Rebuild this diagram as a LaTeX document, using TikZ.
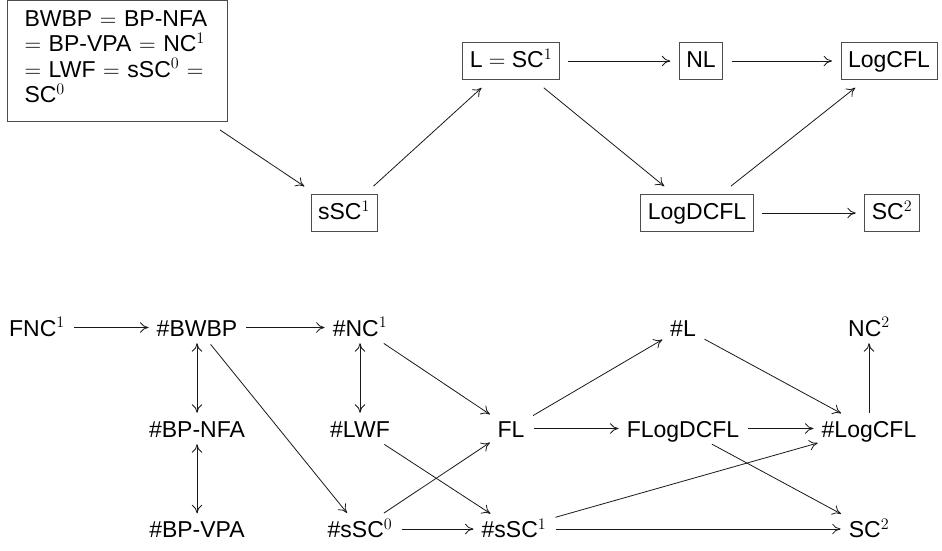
\RequirePackage{fix-cm}
\documentclass[tikz,border=0pt]{standalone}
\usepackage[no-math]{fontspec}
\setmainfont{Liberation Sans}
\usetikzlibrary{arrows.meta}
\begin{document}
\begin{tikzpicture}[x=1pt,y=-1pt,
  every node/.style={font=\fontsize{23}{25.5}\selectfont},
  lab/.style={inner xsep=5pt, inner ysep=4pt, text height=18pt, text depth=1pt},
  cbox/.style={draw=black!70, line width=0.8pt, inner xsep=7pt, inner ysep=7pt,
    text height=18pt, text depth=5pt, outer sep=7pt},
  tip/.tip={To[length=8.5pt,width=10.5pt]},
  arr/.style={-tip, line width=0.8pt, draw=black!90, shorten >=3pt, shorten <=4pt},
  barr/.style={-tip, line width=0.8pt, draw=black!90, shorten >=2pt, shorten <=2pt},
  dbl/.style={tip-tip, line width=0.8pt, draw=black!90, shorten >=2pt, shorten <=2pt}]
\useasboundingbox (0,0) rectangle (942,551);

% top part
\node[draw=black!70, line width=0.8pt, anchor=north west, text width=186pt, align=left,
  inner xsep=17pt, inner ysep=10pt, outer sep=7pt] (b1) at (0.5,-6.5)
  {BWBP $=$ BP-NFA\\ $=$ BP-VPA $=$ NC$^1$\\ $=$ LWF $=$ sSC$^0$ $=$\\ SC$^0$\rule[-9pt]{0pt}{9pt}};
\node[cbox] (ssc1) at (344,213) {sSC$^1$};
\node[cbox] (lsc) at (511,61) {L${}={}$SC$^1$};
\node[cbox] (nl) at (701,61) {NL};
\node[cbox] (logcfl) at (889,61) {LogCFL};
\node[cbox] (logdcfl) at (697,213) {LogDCFL};
\node[cbox] (sc2) at (892,213) {SC$^2$};

\draw[barr] (b1) -- (ssc1);
\draw[barr] (ssc1) -- (lsc);
\draw[barr] (lsc) -- (nl);
\draw[barr] (nl) -- (logcfl);
\draw[barr] (lsc) -- (logdcfl);
\draw[barr] (logdcfl) -- (logcfl);
\draw[barr] (logdcfl) -- (sc2);

% bottom part
\node[lab] (fnc) at (37,327.5) {FNC$^1$};
\node[lab] (bwbp) at (197,327.5) {\#BWBP};
\node[lab] (nc1) at (360,327.5) {\#NC$^1$};
\node[lab] (hl) at (683,327.5) {\#L};
\node[lab] (nc2) at (869,327.5) {NC$^2$};
\node[lab] (bpnfa) at (197,428.5) {\#BP-NFA};
\node[lab] (lwf) at (360,428.5) {\#LWF};
\node[lab] (fl) at (511,428.5) {FL};
\node[lab] (flog) at (683,428.5) {FLogDCFL};
\node[lab] (hlogcfl) at (869,428.5) {\#LogCFL};
\node[lab] (bpvpa) at (197,529) {\#BP-VPA};
\node[lab] (ssc0) at (360,529) {\#sSC$^0$};
\node[lab] (hssc1) at (514,529) {\#sSC$^1$};
\node[lab] (sc2b) at (869,529) {SC$^2$};

\draw[arr] (fnc) -- (bwbp);
\draw[arr] (bwbp) -- (nc1);
\draw[dbl] (bwbp) -- (bpnfa);
\draw[dbl] (bpnfa) -- (bpvpa);
\draw[arr] (bwbp) -- (ssc0);
\draw[dbl] (nc1) -- (lwf);
\draw[arr] (nc1) -- (fl);
\draw[arr] (lwf) -- (hssc1);
\draw[arr] (ssc0) -- (fl);
\draw[arr] (ssc0) -- (hssc1);
\draw[arr] (fl) -- (hl);
\draw[arr] (fl) -- (flog);
\draw[arr] (hl) -- (hlogcfl);
\draw[arr] (flog) -- (hlogcfl);
\draw[arr] (flog) -- (sc2b);
\draw[arr] (hssc1) -- (hlogcfl);
\draw[arr] (hssc1) -- (sc2b);
\draw[barr] (hlogcfl) -- (nc2);
\end{tikzpicture}
\end{document}
